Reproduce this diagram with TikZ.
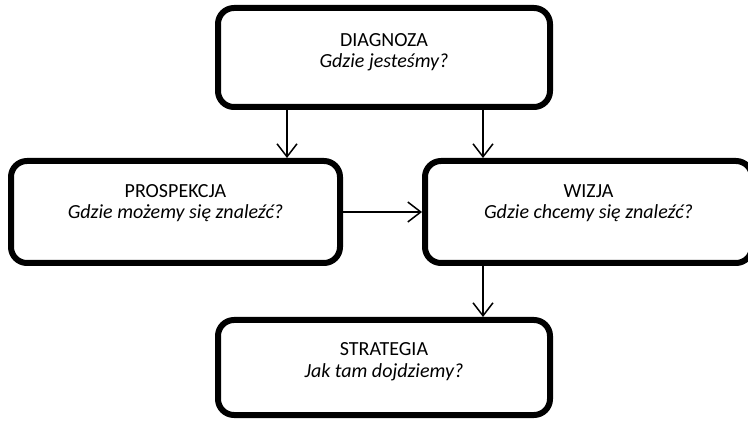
\documentclass[tikz,border=0pt]{standalone}
\usepackage{fontspec}
\setmainfont{Carlito}
\usetikzlibrary{arrows.meta,calc}
\begin{document}
\begin{tikzpicture}[x=1pt,y=1pt,
  box/.style={draw=black, fill=white, line width=6pt, rounded corners=16pt, inner sep=0pt},
  ttl/.style={font=\fontsize{20}{24}\selectfont, anchor=base, inner sep=0pt},
  sub/.style={font=\fontsize{20}{24}\selectfont\itshape, anchor=base, inner sep=0pt},
  arr/.style={-{Straight Barb[length=13pt,width=20pt]}, line width=1.5pt, draw=black}
]
\useasboundingbox (0,0) rectangle (748,421);
\begin{scope}
\clip (0,0) rectangle (748,421);
\node[box, minimum width=332pt, minimum height=99pt] (diag) at (384,363.5) {};
\node[box, minimum width=329pt, minimum height=102pt] (pros) at (175.5,209) {};
\node[box, minimum width=327pt, minimum height=102pt] (wiz) at (588.5,209) {};
\node[box, minimum width=332pt, minimum height=95pt] (strat) at (384,53.5) {};
\end{scope}

\node[ttl] (diagT) at (384,374) {DIAGNOZA};
\node[sub] (diagS) at (384,353.5) {Gdzie jesteśmy?};
\node[ttl] (prosT) at (175.5,223) {PROSPEKCJA};
\node[sub] (prosS) at (175.5,202) {Gdzie możemy się znaleźć?};
\node[ttl] (wizT) at (588.5,223) {WIZJA};
\node[sub] (wizS) at (588.5,202) {Gdzie chcemy się znaleźć?};
\node[ttl] (stratT) at (384,66) {STRATEGIA};
\node[sub] (stratS) at (384,44) {Jak tam dojdziemy?};

\coordinate (cl) at (287,0);
\coordinate (cr) at (483,0);
\draw[arr] (cl |- diag.south) -- (cl |- pros.north);
\draw[arr] (cr |- diag.south) -- (cr |- wiz.north);
\draw[arr] (pros.east) -- (wiz.west);
\draw[arr] (cr |- wiz.south) -- (cr |- strat.north);
\end{tikzpicture}
\end{document}
